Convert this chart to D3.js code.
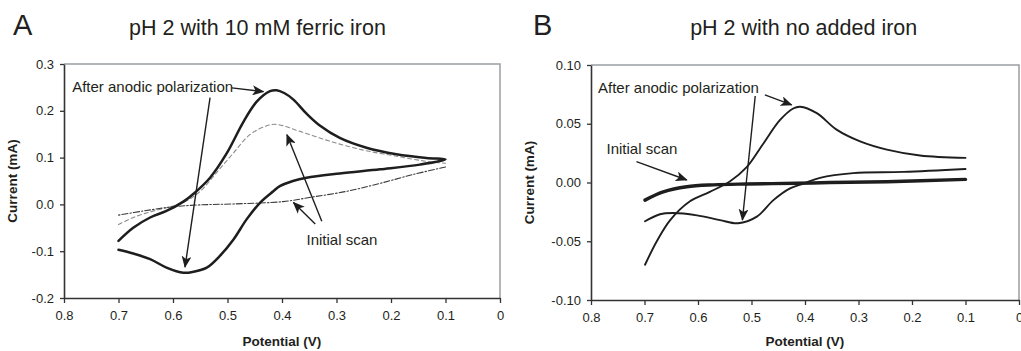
<!DOCTYPE html>
<html><head><meta charset="utf-8">
<script src="https://cdn.jsdelivr.net/npm/d3@7"></script>
<style>
body{margin:0;background:#fff}
svg{display:block}
text{font-family:"Liberation Sans",Arial,sans-serif;fill:#231f20}
</style>
</head><body>
<svg id="chart" width="1021" height="351"></svg>
<script>
// ---------- DATA ----------
const xTickValues = [0.8, 0.7, 0.6, 0.5, 0.4, 0.3, 0.2, 0.1, 0];
const xTickLabels = ["0.8", "0.7", "0.6", "0.5", "0.4", "0.3", "0.2", "0.1", "0"];
const aYTickValues = [0.3, 0.2, 0.1, 0.0, -0.1, -0.2];
const aYTickLabels = ["0.3", "0.2", "0.1", "0.0", "-0.1", "-0.2"];
const bYTickValues = [0.10, 0.05, 0.00, -0.05, -0.10];
const bYTickLabels = ["0.10", "0.05", "0.00", "-0.05", "-0.10"];

// Panel A: pH 2 with 10 mM ferric iron  [potential (V), current (mA)]
const aAfterPolarization = [
  [0.700,-0.078],[0.673,-0.050],[0.642,-0.028],[0.612,-0.014],[0.581,0.006],[0.560,0.025],
  [0.532,0.057],[0.501,0.110],[0.471,0.176],[0.446,0.220],[0.422,0.242],[0.410,0.244],
  [0.396,0.238],[0.379,0.224],[0.355,0.194],[0.330,0.168],[0.294,0.142],[0.245,0.121],
  [0.190,0.107],[0.135,0.099],[0.100,0.096],
  [0.147,0.085],[0.220,0.075],[0.294,0.066],[0.355,0.057],[0.380,0.050],[0.404,0.039],
  [0.416,0.028],[0.440,0.004],[0.465,-0.032],[0.489,-0.075],[0.514,-0.110],[0.538,-0.135],
  [0.563,-0.144],[0.581,-0.146],[0.612,-0.135],[0.642,-0.117],[0.673,-0.105],[0.700,-0.097]
];
const aInitialForward = [
  [0.700,-0.043],[0.673,-0.028],[0.642,-0.016],[0.612,-0.007],[0.581,0.004],[0.550,0.028],
  [0.520,0.068],[0.489,0.110],[0.459,0.149],[0.428,0.168],[0.410,0.171],[0.367,0.156],
  [0.312,0.135],[0.251,0.116],[0.190,0.103],[0.135,0.092],[0.100,0.088]
];
const aInitialReverse = [
  [0.100,0.080],[0.159,0.064],[0.220,0.045],[0.281,0.028],[0.343,0.016],[0.398,0.006],
  [0.489,0.001],[0.550,-0.001],[0.599,-0.005],[0.654,-0.014],[0.700,-0.023]
];

// Panel B: pH 2 with no added iron
const bAfterForward = [
  [0.699,-0.070],[0.677,-0.050],[0.652,-0.032],[0.615,-0.016],[0.578,-0.008],[0.540,0.001],
  [0.509,0.013],[0.478,0.033],[0.447,0.053],[0.422,0.063],[0.409,0.0645],[0.378,0.059],
  [0.341,0.045],[0.297,0.035],[0.247,0.028],[0.185,0.023],[0.100,0.021]
];
const bAfterReverse = [
  [0.699,-0.033],[0.671,-0.027],[0.646,-0.026],[0.602,-0.028],[0.559,-0.032],[0.525,-0.0347],
  [0.490,-0.029],[0.459,-0.015],[0.428,-0.005],[0.403,-0.001],[0.372,0.004],[0.310,0.008],
  [0.216,0.009],[0.100,0.0115]
];
const bInitialScan = [
  [0.699,-0.015],[0.665,-0.008],[0.621,-0.0036],[0.571,-0.002],[0.509,-0.0013],
  [0.416,-0.0007],[0.353,0.0],[0.247,0.0007],[0.100,0.0027]
];

// Annotations (data coordinates): text anchor, arrows [from, to]
const aLabels = [
  {text:"After anodic polarization", at:[0.785,0.251]},
  {text:"Initial scan", at:[0.355,-0.075]}
];
const aArrows = [
  [[0.492,0.249],[0.434,0.241]],
  [[0.532,0.228],[0.578,-0.134]],
  [[0.339,-0.042],[0.379,0.004]],
  [[0.327,-0.036],[0.391,0.149]]
];
const bLabels = [
  {text:"After anodic polarization", at:[0.787,0.081]},
  {text:"Initial scan", at:[0.771,0.029]}
];
const bArrows = [
  [[0.475,0.0745],[0.425,0.066]],
  [[0.493,0.0736],[0.517,-0.0319]],
  [[0.715,0.0177],[0.621,0.0021]]
];

// ---------- DRAW ----------
const svg = d3.select("#chart");
const defs = svg.append("defs");
defs.append("marker").attr("id","arr").attr("viewBox","0 0 12 10")
  .attr("refX",11).attr("refY",5).attr("markerWidth",12).attr("markerHeight",10)
  .attr("markerUnits","userSpaceOnUse").attr("orient","auto")
  .append("path").attr("d","M0,0 L12,5 L0,10 L3,5 Z").attr("fill","#1e1e1e");

function panel(cfg){
  const g = svg.append("g");
  const x = d3.scaleLinear().domain([0.8,0]).range([cfg.left,cfg.right]);
  const y = d3.scaleLinear().domain(cfg.yDomain).range([cfg.bottom,cfg.top]);

  // frame (top/right gray)
  g.append("path")
    .attr("d",`M${cfg.left},${cfg.top} H${cfg.right} V${cfg.bottom}`)
    .attr("fill","none").attr("stroke","#9a9ea3").attr("stroke-width",1.5);

  const xAxis = d3.axisBottom(x).tickValues(xTickValues)
    .tickFormat((d,i)=>xTickLabels[i]).tickSizeInner(5).tickSizeOuter(0).tickPadding(6);
  const gx = g.append("g").attr("transform",`translate(0,${cfg.bottom})`).call(xAxis);
  const yAxis = d3.axisLeft(y).tickValues(cfg.yTicks)
    .tickFormat((d,i)=>cfg.yLabels[i]).tickSizeInner(4).tickSizeOuter(0).tickPadding(6);
  const gy = g.append("g").attr("transform",`translate(${cfg.left},0)`).call(yAxis);
  [gx,gy].forEach(a=>{
    a.select(".domain").attr("stroke","#333").attr("stroke-width",1.6);
    a.selectAll(".tick line").attr("stroke","#333").attr("stroke-width",1.3);
    a.selectAll(".tick text").attr("font-size",13).attr("fill","#231f20")
      .attr("font-family","'Liberation Sans',Arial,sans-serif");
  });
  gx.selectAll(".tick text").attr("dy","0.85em");

  // titles
  g.append("text").attr("x",cfg.titleX).attr("y",35).attr("text-anchor","middle")
    .attr("font-size",21.5).text(cfg.title);
  g.append("text").attr("x",cfg.letterX).attr("y",35)
    .attr("font-family","Lato,'Open Sans',sans-serif").attr("font-size",29).text(cfg.letter);
  g.append("text").attr("x",(cfg.left+cfg.right)/2).attr("y",346).attr("text-anchor","middle")
    .attr("font-size",13.5).attr("font-weight","bold").text("Potential (V)");
  g.append("text").attr("transform",`translate(${cfg.yTitleX},${(cfg.top+cfg.bottom)/2}) rotate(-90)`)
    .attr("text-anchor","middle").attr("font-size",13.5).attr("font-weight","bold")
    .text("Current (mA)");

  const line = d3.line().x(d=>x(d[0])).y(d=>y(d[1])).curve(d3.curveCatmullRom.alpha(0.5));
  cfg.series.forEach(s=>{
    g.append("path").attr("d",line(s.data)).attr("fill","none")
      .attr("stroke",s.color).attr("stroke-width",s.width)
      .attr("stroke-dasharray",s.dash||null).attr("stroke-linecap","round")
      .attr("stroke-linejoin","round");
  });

  cfg.arrows.forEach(a=>{
    g.append("line").attr("x1",x(a[0][0])).attr("y1",y(a[0][1]))
      .attr("x2",x(a[1][0])).attr("y2",y(a[1][1]))
      .attr("stroke","#1e1e1e").attr("stroke-width",1.4).attr("marker-end","url(#arr)");
  });
  cfg.labels.forEach(l=>{
    g.append("text").attr("x",x(l.at[0])).attr("y",y(l.at[1])).attr("dy","0.35em")
      .attr("font-size",15).text(l.text);
  });
}

panel({
  left:64, right:500, top:64, bottom:298, yDomain:[-0.2,0.3],
  yTicks:aYTickValues, yLabels:aYTickLabels,
  title:"pH 2 with 10 mM ferric iron", titleX:257.5, letter:"A", letterX:13, yTitleX:17,
  series:[
    {data:aInitialForward, color:"#8c8c8c", width:1.1, dash:"4,3"},
    {data:aInitialReverse, color:"#3a3a3a", width:1.1, dash:"6,2,1.5,2"},
    {data:aAfterPolarization, color:"#1e1e1e", width:2.5}
  ],
  arrows:aArrows, labels:aLabels
});
panel({
  left:591, right:1019, top:65, bottom:300, yDomain:[-0.10,0.10],
  yTicks:bYTickValues, yLabels:bYTickLabels,
  title:"pH 2 with no added iron", titleX:803.7, letter:"B", letterX:533, yTitleX:534,
  series:[
    {data:bInitialScan, color:"#1e1e1e", width:3.4},
    {data:bAfterForward, color:"#1e1e1e", width:1.9},
    {data:bAfterReverse, color:"#1e1e1e", width:1.9}
  ],
  arrows:bArrows, labels:bLabels
});
</script>
</body></html>
